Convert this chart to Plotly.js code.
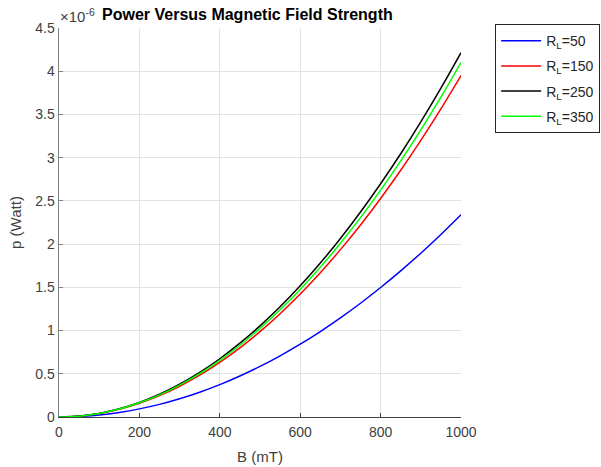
<!DOCTYPE html>
<html>
<head>
<meta charset="utf-8">
<script src="https://cdn.plot.ly/plotly-3.0.1.min.js"></script>
<style>html,body{margin:0;padding:0;background:#fff;}#chart{width:601px;height:467px;}</style>
</head>
<body>
<div id="chart"></div>
<script>
// Magnetic field strength (mT)
var B = [0,50,100,150,200,250,300,350,400,450,500,550,600,650,700,750,800,850,900,950,1000];
// Power values in units of 1e-6 W
var p_RL50  = [0,0.006,0.023,0.053,0.094,0.146,0.211,0.287,0.374,0.474,0.585,0.708,0.842,0.989,1.147,1.316,1.498,1.691,1.895,2.112,2.340];
var p_RL150 = [0,0.010,0.040,0.089,0.158,0.247,0.356,0.484,0.632,0.800,0.988,1.195,1.422,1.669,1.936,2.222,2.528,2.854,3.200,3.565,3.950];
var p_RL250 = [0,0.011,0.042,0.095,0.169,0.263,0.379,0.516,0.674,0.854,1.054,1.275,1.517,1.781,2.065,2.371,2.698,3.045,3.414,3.804,4.215];
var p_RL350 = [0,0.010,0.041,0.092,0.164,0.256,0.369,0.502,0.656,0.830,1.025,1.240,1.476,1.732,2.009,2.306,2.624,2.962,3.321,3.700,4.100];
var seriesNames = ["R<sub>L</sub>=50","R<sub>L</sub>=150","R<sub>L</sub>=250","R<sub>L</sub>=350"];
var seriesColors = ["#0000ff","#ff0000","#000000","#00ff00"];
var seriesData = [p_RL50,p_RL150,p_RL250,p_RL350];
var xTicks = [0,200,400,600,800,1000];
var yTicks = [0,0.5,1,1.5,2,2.5,3,3.5,4,4.5];

var FONT = "Liberation Sans, Arial, Helvetica, sans-serif";
var traces = seriesData.map(function(d,i){
  return {x:B, y:d, type:"scatter", mode:"lines", name:seriesNames[i],
    line:{color:seriesColors[i], width:1.5, shape:"spline"}, legendgroup:"g"+i};
});

var layout = {
  width:601, height:467,
  margin:{l:59, r:140, t:28, b:50, autoexpand:false},
  paper_bgcolor:"#fff", plot_bgcolor:"#fff",
  showlegend:true,
  font:{family:FONT, size:13, color:"#262626"},
  xaxis:{range:[0,1000], tickvals:xTicks, ticktext:xTicks.map(String),
    showgrid:true, gridcolor:"#e3e3e3", gridwidth:1, zeroline:false,
    showline:true, linecolor:"#404040", linewidth:1, ticks:"inside", ticklen:4, tickcolor:"#404040",
    tickfont:{size:14, color:"#404040"}, ticklabelstandoff:2,
    title:{text:"B (mT)", font:{size:15, color:"#404040"}, standoff:12}},
  yaxis:{range:[0,4.5], tickvals:yTicks, ticktext:yTicks.map(String),
    showgrid:true, gridcolor:"#e3e3e3", gridwidth:1, zeroline:false,
    showline:true, linecolor:"#808080", linewidth:1.5, ticks:"inside", ticklen:4, tickcolor:"#808080",
    tickfont:{size:14, color:"#404040"},
    title:{text:"p (Watt)", font:{size:15, color:"#404040"}, standoff:10}},
  legend:{x:1.085, y:1.01, xanchor:"left", yanchor:"top", bordercolor:"#262626", borderwidth:1,
    bgcolor:"#fff", font:{size:14, color:"#262626"}, tracegroupgap:4, itemwidth:40},
  annotations:[
    {xref:"paper", yref:"paper", x:0.47, y:1, yshift:14, xanchor:"center", yanchor:"middle",
     text:"<b>Power Versus Magnetic Field Strength</b>", showarrow:false, font:{size:16, color:"#000"}},
    {xref:"paper", yref:"paper", x:0, y:1, xshift:-1, yshift:13, xanchor:"left", yanchor:"middle",
     text:"\u00d710<sup>-6</sup>", showarrow:false, font:{size:15, color:"#404040"}}
  ]
};
Plotly.newPlot("chart", traces, layout, {displayModeBar:false, staticPlot:true});
</script>
</body>
</html>
